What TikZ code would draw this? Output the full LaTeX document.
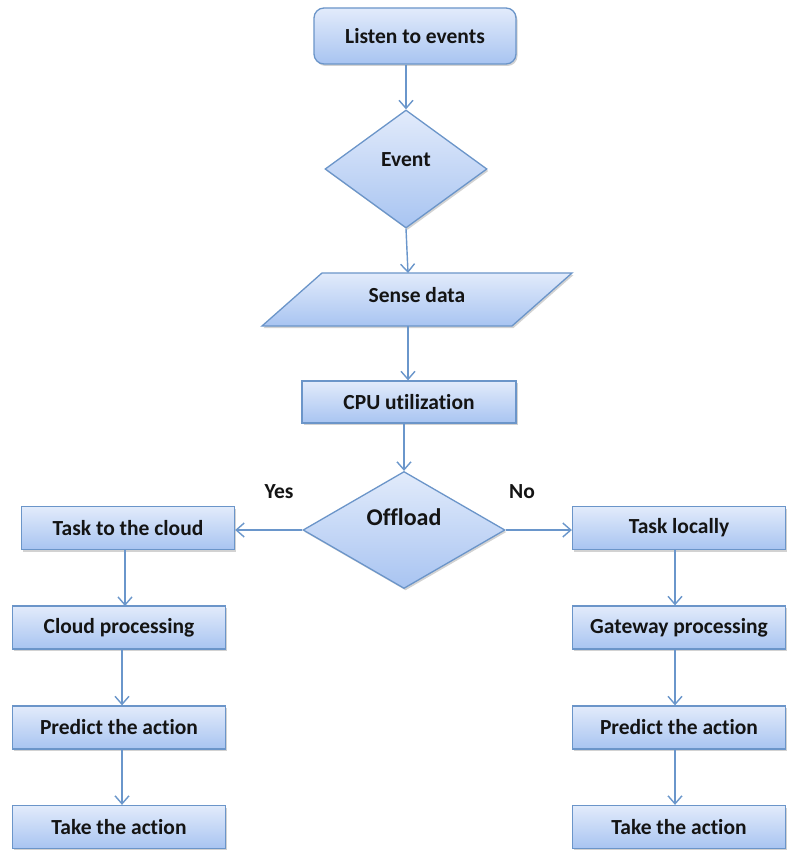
\documentclass[tikz,border=0pt]{standalone}
\usepackage{fontspec}
\setmainfont[Ligatures={NoCommon}]{Carlito}
\usetikzlibrary{shapes.geometric,arrows.meta,shadows}
\definecolor{bordc}{HTML}{6B95C9}
\definecolor{topc}{HTML}{E2EBFB}
\definecolor{botc}{HTML}{A8C4F1}
\definecolor{arrc}{HTML}{6A96CB}
\definecolor{txtc}{HTML}{141414}
\begin{document}
\begin{tikzpicture}[x=1pt,y=-1pt,
  base/.style={draw=bordc, line width=1.3pt, top color=topc, bottom color=botc,
    text=txtc, font=\fontsize{21.5}{24}\selectfont\bfseries,
    drop shadow={shadow xshift=1.5pt,shadow yshift=-2pt,opacity=0.35}, inner sep=0pt},
  procbox/.style={base, rectangle, minimum width=213pt, minimum height=43pt},
  lbl/.style={text=txtc, font=\fontsize{21.5}{24}\selectfont\bfseries, inner sep=0pt},
  conn/.style={draw=arrc, line width=1.4pt, -{Straight Barb[length=8pt,width=14pt]}}]
\useasboundingbox (0,0) rectangle (788,850);
\fill[white] (0,0) rectangle (788,850);
% top part
\node[base, rounded corners=10pt, minimum width=202pt, minimum height=56pt] (listen) at (415,36) {Listen to events};
\node[base, diamond, minimum width=162pt, minimum height=118pt] (event) at (406,169) {};
\node[lbl] (eventtxt) at (406,160) {Event};
\path[base] (322,273) -- (572,273) -- (512,326) -- (262,326) -- cycle;
\node[lbl] (sense) at (417,295) {Sense data};
\coordinate (sensetop) at (408,273);
\coordinate (sensebot) at (408,326);
\node[procbox, minimum width=214pt, minimum height=42pt] (cpu) at (409,402) {CPU utilization};
\node[base, diamond, minimum width=202pt, minimum height=117pt] (offload) at (404,530) {};
\node[lbl, font=\fontsize{24}{27}\selectfont\bfseries] (offtxt) at (404,517) {Offload};
\node[lbl] (yes) at (279,492) {Yes};
\node[lbl] (no) at (522,492) {No};
% left column
\node[procbox] (taskcloud) at (128,528) {Task to the cloud};
\node[procbox] (cloudproc) at (119,627.5) {Cloud processing};
\node[procbox] (predictL) at (119,727.5) {Predict the action};
\node[procbox] (takeL) at (119,827) {Take the action};
% right column
\node[procbox] (tasklocal) at (679,528) {Task locally};
\node[procbox] (gateway) at (679,627.5) {Gateway processing};
\node[procbox] (predictR) at (679,727.5) {Predict the action};
\node[procbox] (takeR) at (679,827) {Take the action};
% connectors
\coordinate (tcb) at (125,549.5);
\coordinate (cpt) at (125,606);
\draw[conn] (event.north |- listen.south) -- (event.north);
\draw[conn] (event.south) -- (sensetop);
\draw[conn] (sensebot) -- (sensebot |- cpu.north);
\draw[conn] (offload.north |- cpu.south) -- (offload.north);
\draw[conn] (offload.west) -- (offload.west -| taskcloud.east);
\draw[conn] (offload.east) -- (offload.east -| tasklocal.west);
\draw[conn] (tcb) -- (cpt);
\draw[conn] ([xshift=3pt]cloudproc.south) -- ([xshift=3pt]predictL.north);
\draw[conn] ([xshift=3pt]predictL.south) -- ([xshift=3pt]takeL.north);
\draw[conn] ([xshift=-4pt]tasklocal.south) -- ([xshift=-4pt]gateway.north);
\draw[conn] ([xshift=-4pt]gateway.south) -- ([xshift=-4pt]predictR.north);
\draw[conn] ([xshift=-4pt]predictR.south) -- ([xshift=-4pt]takeR.north);
\end{tikzpicture}
\end{document}
